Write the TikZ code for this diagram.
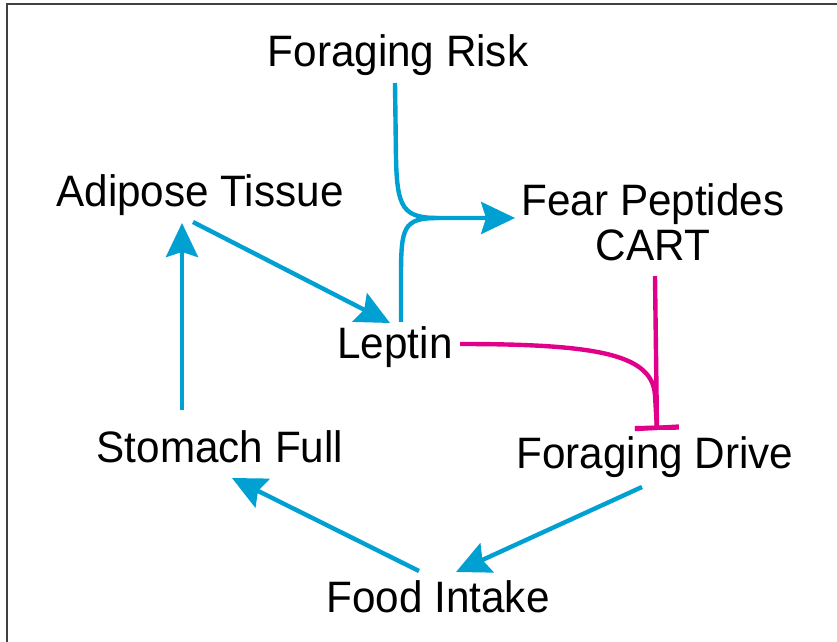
\documentclass[tikz,border=0pt]{standalone}
\usepackage{fontspec}
\setmainfont[FakeStretch=0.96]{Liberation Sans}
\usetikzlibrary{arrows.meta}
\definecolor{feedblue}{RGB}{0,160,210}
\definecolor{blockpink}{RGB}{224,0,138}

\begin{document}
\begin{tikzpicture}[x=.5pt,y=-.5pt,
    lbl/.style={inner sep=0pt,anchor=base,font=\fontsize{22}{22.5}\selectfont},
    feed/.style={feedblue,line width=2.2pt,-{Stealth[length=17pt,width=16pt,inset=2.5pt]}},
    block/.style={blockpink,line width=2.2pt,-{Bar[width=22pt]}}]
  \useasboundingbox (0,0) rectangle (837,642);
  \draw [black!75, line width=1pt] (837,4) -- (7,4) -- (7,642);
  \node [lbl] (risk) at (398,67) {Foraging Risk};
  \node [lbl] (adipose) at (200,207) {Adipose Tissue};
  \node [lbl,anchor=center,align=center] (fear) at (653,222) {Fear Peptides\\CART};
  \node [lbl] (leptin) at (395,358) {Leptin};
  \node [lbl] (stomach) at (220,463) {Stomach Full};
  \node [lbl] (drive) at (655,468) {Foraging Drive};
  \node [lbl] (intake) at (438,612) {Food Intake};
  \coordinate (join) at ([shift={(-83,-4)}]fear.west);
  \coordinate (stop) at ([shift={(2,-38)}]drive.base);
  % blue loop
  \draw [feed] ([shift={(-3,16)}]risk.base) -- ++(1,75)
        .. controls +(1,50) and +(-35,0) .. (join) -- ([shift={(-6,-4)}]fear.west);
  \draw [feed,-] ([shift={(6,-36)}]leptin.base) -- ++(0,-45)
        .. controls +(0,-50) and +(-35,0) .. (join);
  \draw [feed] ([shift={(-7,15)}]adipose.base) -- ([shift={(-5,-35)}]leptin.base);
  \draw [feed] ([shift={(-38,-53)}]stomach.base) -- ([shift={(-18,16)}]adipose.base);
  \draw [feed] ([shift={(-19,-41)}]intake.base) -- ([shift={(12,15)}]stomach.base);
  \draw [feed] ([shift={(-13,19)}]drive.base) -- ([shift={(18,-40)}]intake.base);
  % inhibition
  \draw [block] ([shift={(65,-14)}]leptin.base)
        .. controls +(140,0) and +(-3,-40) .. ([shift={(-2,-35)}]stop) -- (stop);
  \draw [block] ([shift={(2,15)}]fear.south) -- (stop);
\end{tikzpicture}
\end{document}
